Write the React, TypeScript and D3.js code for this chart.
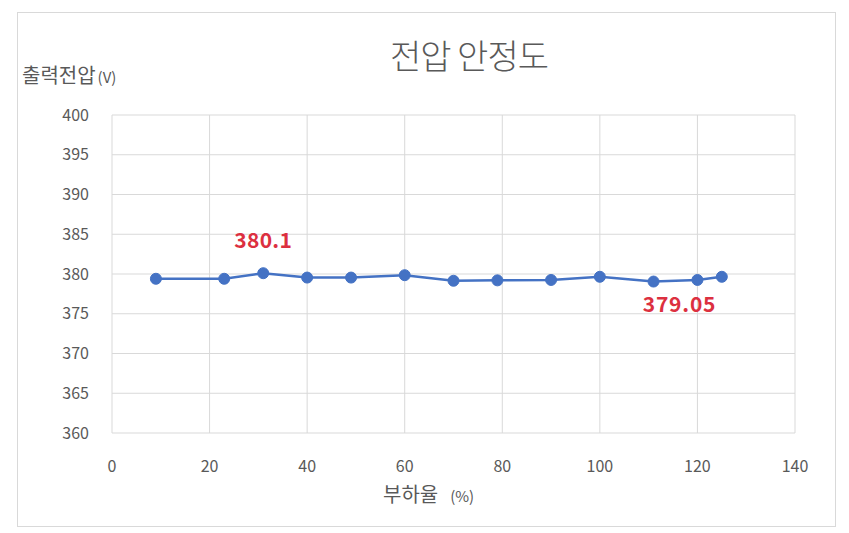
import React from "react";
import * as d3 from "d3";

const loadPct: number[] = [9, 23, 31, 40, 49, 60, 70, 79, 90, 100, 111, 120, 125];
const voltage: number[] = [379.4, 379.4, 380.1, 379.55, 379.55, 379.85, 379.15, 379.2, 379.25, 379.65, 379.05, 379.25, 379.65];
const xTicks: number[] = [0, 20, 40, 60, 80, 100, 120, 140];
const yTicks: number[] = [360, 365, 370, 375, 380, 385, 390, 395, 400];
const labelIdx: number[] = [2, 10];
const labelText: string[] = ["380.1", "379.05"];
const title = "전압 안정도";
const yTitle = "출력전압";
const yUnit = "(V)";
const xTitle = "부하율";
const xUnit = "(%)";

const W = 849, H = 533;
const m = { left: 112, right: 795, top: 115, bottom: 433 };
const font = "'Noto Sans CJK KR', 'Noto Sans', sans-serif";
const grey = "#595959";
const blue = "#4472C4";

export default function App() {
  const x = d3.scaleLinear().domain([0, 140]).range([m.left, m.right]);
  const y = d3.scaleLinear().domain([360, 400]).range([m.bottom, m.top]);
  const pts = loadPct.map((p, i) => [x(p), y(voltage[i])] as [number, number]);
  const line = d3.line()(pts) || "";
  const labelDx = [0, 26];
  const labelDy = [-32.5, 23];
  return (
    <svg width={W} height={H} style={{ position: "absolute", left: 0, top: 0, background: "#fff" }}>
      <rect x={17.5} y={12.5} width={818} height={514} fill="#fff" stroke="#d9d9d9" />
      {yTicks.map((t) => (
        <line key={"gy" + t} x1={m.left} x2={m.right} y1={y(t)} y2={y(t)} stroke="#d9d9d9" strokeWidth={1} />
      ))}
      {xTicks.map((t) => (
        <line key={"gx" + t} x1={x(t)} x2={x(t)} y1={m.top} y2={m.bottom} stroke="#d9d9d9" strokeWidth={1} />
      ))}
      {yTicks.map((t) => (
        <text key={"ty" + t} x={89} y={y(t)} dy="0.35em" textAnchor="end" fontFamily={font} fontSize={16} fill={grey}>
          {t}
        </text>
      ))}
      {xTicks.map((t) => (
        <text key={"tx" + t} x={x(t)} y={466} dy="0.35em" textAnchor="middle" fontFamily={font} fontSize={16} fill={grey}>
          {t}
        </text>
      ))}
      <path d={line} fill="none" stroke={blue} strokeWidth={2.5} />
      {pts.map((p, i) => (
        <circle key={"c" + i} cx={p[0]} cy={p[1]} r={5.5} fill={blue} stroke={blue} strokeWidth={1} />
      ))}
      {labelIdx.map((idx, k) => (
        <text
          key={"l" + k}
          x={pts[idx][0] + labelDx[k]}
          y={pts[idx][1] + labelDy[k]}
          dy="0.35em"
          textAnchor="middle"
          fontFamily={font}
          fontSize={21}
          fontWeight={700}
          letterSpacing={k === 1 ? 0.8 : 0.3}
          fill="#DC3040"
        >
          {labelText[k]}
        </text>
      ))}
      <text x={469} y={57} dy="0.35em" textAnchor="middle" fontFamily={font} fontSize={34} fill={grey} fontWeight={300} letterSpacing={-1}>
        {title}
      </text>
      <text x={22} y={76} dy="0.35em" fontFamily={font} fontSize={20} fill={grey}>
        {yTitle}
        <tspan fontSize={15} dx={2}>{yUnit}</tspan>
      </text>
      <text x={383} y={495} dy="0.35em" textAnchor="start" fontFamily={font} fontSize={20} fill={grey}>
        {xTitle}
        <tspan fontSize={15} dx={12}>{xUnit}</tspan>
      </text>
    </svg>
  );
}
